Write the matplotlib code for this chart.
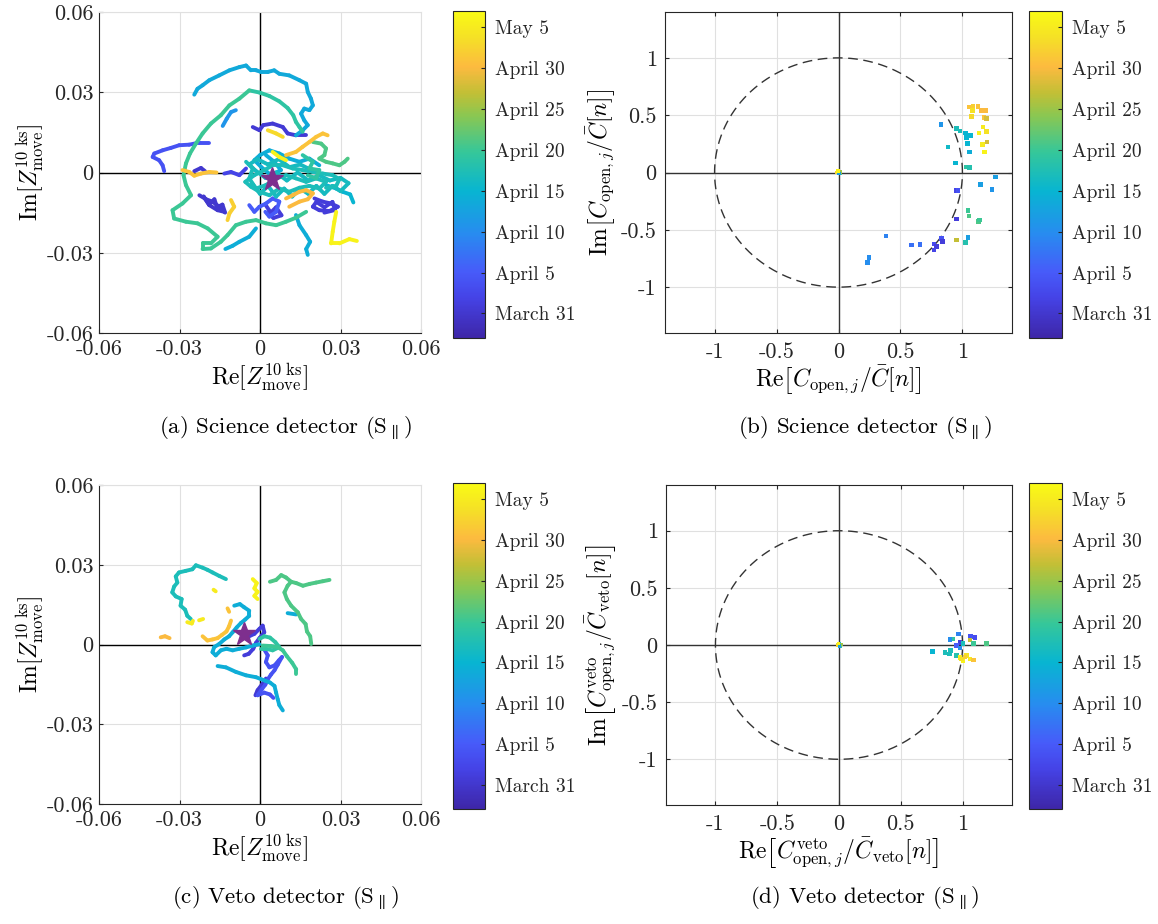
import numpy as np
import matplotlib.pyplot as plt
from matplotlib.collections import LineCollection
from matplotlib.colors import LinearSegmentedColormap, Normalize
from matplotlib.cm import ScalarMappable

plt.rcParams['font.family'] = 'cmr10'
plt.rcParams['mathtext.fontset'] = 'cm'
plt.rcParams['axes.unicode_minus'] = False
plt.rcParams['axes.formatter.use_mathtext'] = True

nan = np.nan

# dates: day 0 = March 31
date_ticks = [0, 5, 10, 15, 20, 25, 30, 35]
date_labels = ['March 31', 'April 5', 'April 10', 'April 15',
               'April 20', 'April 25', 'April 30', 'May 5']
day_min, day_max = -3, 37

# ---- (a) science detector walk, values in units of 1e-3, NaN = break
a_re = [-24.5, -23.3, -21.4, -18.9, -15.2, -11.4, -7.7, -5.2, -3.4, -1.5, 0.4, 2.9, 5.3, 7.2,
        10.9, 14.7, 17.2, 17.8, 19.0, 19.7, 18.4, 16.5, 15.3, 16.5, 17.8, 15.9, 13.4, nan,
        -4.0, -7.7, -11.4, -14.6, -18.3, -21.4, -23.9, -26.1, -27.6, -28.5, -27.6, -25.7, -28.9,
        -32.6, -32.0, -27.6, -23.3, -19.5, -15.8, -18.3, -21.4, -21.4, -18.3, -14.6, -12.1, -9.0,
        -5.2, -1.5, 2.2, 6.0, 9.7, 13.4, 17.2, nan,
        -4.0, -0.2, 3.5, 7.2, 10.3, 12.4, 13.4, 14.7, 15.9, nan,
        -13.9, -12.4, -10.8, -9.0, nan,
        -18.9, -22.6, -26.4, -30.1, -33.2, -36.3, -39.4, -40.0, -37.6, -36.3, -35.7, nan,
        -2.7, -0.2, 1.2, 4.7, 8.5, 10.3, 13.4, 17.2, nan,
        2.9, 6.0, 8.5, nan,
        9.7, 13.4, 15.9, 18.4, 20.9, 23.4, 25.2, nan,
        19.7, 22.8, 24.6, 24.0, 22.1, 24.6, 27.1, 29.6, 31.5, 32.7, nan,
        4.7, 7.2, 9.7, nan,
        -28.9, -26.4, -24.5, -22.0, -18.9, -16.2, nan,
        -13.3, -10.8, -7.7, -5.2, nan,
        -24.5, -22.0, -20.5, nan,
        -22.6, -20.1, -17.7, -15.2, -13.3, -15.8, -18.9, -21.0, -19.0, -17.0, -16.0, -14.0,
        -13.0, nan,
        -10.8, -9.6, -11.4, -12.1, nan,
        -4.0, -2.1, -0.2, 2.2, 4.7, 7.2, 6.0, 3.5, 2.0, nan,
        9.7, 12.2, 14.7, 17.2, 19.7, 17.8, 14.7, 10.9, nan,
        20.3, 23.4, 26.5, 29.0, 25.9, 22.1, 19.7, 21.0, 24.0, 27.0, 28.0, 24.0, nan,
        24.6, 28.4, 30.8, 33.6, 34.8, nan,
        28.4, 27.7, 27.1, 26.5, 29.6, 33.3, 36.1, nan,
        13.4, 14.7, 17.2, 18.7, 17.2, 17.8, nan,
        -1.5, -4.0, -7.7, -10.2, -12.9, nan,
        -5.2, -2.7, -4.0, -1.5, 2.2, 6.0, 9.7, 13.4, 17.2, 20.9, 24.6, 22.1, 18.4, 14.7, 10.9,
        7.2, 3.5, -0.2, -3.4, -5.5, -2.1, 1.6, 4.7, 8.5, 12.2, 15.9, 19.7, 23.4, 27.1, 29.6,
        28.4, 24.6, nan,
        -3.0, 0.0, 3.0, 6.0, 9.0, 12.0, 15.0, 18.0, 21.0, 24.0, 27.0, 30.0, 33.0, 30.0, 26.0,
        22.0, 18.0, 14.0, 10.0, 6.0, 2.0, -2.0, -4.0, -1.0, 3.0, 7.0, 11.0, 15.0, 19.0, nan,
        2.2, 5.3, 7.8, 4.1, 0.4, -2.1, 0.0, 3.5, 7.2, 10.9, 14.7, 18.4, 22.1, nan,
        15.9, 19.7, 18.4, 22.1, 20.9, 17.8, nan,
        2.0, 4.0, 6.0, 8.0, 5.0, 3.0]
a_im = [29.1, 31.3, 32.6, 34.5, 36.3, 38.2, 39.4, 40.0, 38.2, 38.2, 37.6, 37.6, 38.2, 36.9,
        36.3, 34.5, 33.2, 30.1, 27.6, 25.1, 23.3, 23.9, 22.0, 19.5, 17.7, 15.8, 13.9, nan,
        30.7, 27.6, 25.1, 21.4, 18.3, 14.6, 10.8, 7.1, 3.4, -1.0, -4.7, -8.5, -11.6,
        -14.1, -17.2, -18.4, -19.0, -20.9, -24.0, -26.5, -26.5, -28.6, -28.4, -25.9, -23.4, -19.7,
        -18.4, -17.8, -19.0, -19.7, -18.4, -16.9, -14.7, nan,
        30.7, 29.9, 28.6, 26.6, 24.1, 21.4, 18.9, 17.0, 15.2, nan,
        17.4, 20.1, 22.6, 23.3, nan,
        11.2, 11.2, 10.4, 10.2, 9.2, 8.3, 7.1, 5.8, 4.6, 2.7, 0.5, nan,
        17.0, 15.8, 17.7, 18.3, 17.0, 14.6, 13.9, 13.9, nan,
        15.8, 14.6, 13.3, nan,
        6.5, 7.7, 9.6, 11.4, 13.3, 14.6, 13.9, nan,
        11.4, 10.8, 9.0, 6.5, 5.2, 4.0, 3.4, 2.7, 4.0, 5.2, nan,
        7.7, 5.8, 4.6, nan,
        0.9, 0.2, -1.2, -0.4, 0.2, 0.0, nan,
        -0.4, 0.2, -1.0, 1.5, nan,
        0.5, 1.7, 0.5, nan,
        -8.5, -10.0, -10.9, -12.8, -14.7, -14.1, -12.2, -9.0, -12.0, -10.0, -13.0, -12.0,
        -15.0, nan,
        -10.3, -12.8, -15.3, -17.8, nan,
        -12.2, -14.7, -12.8, -11.6, -9.7, -10.9, -14.7, -16.5, -14.7, nan,
        -9.7, -8.5, -7.2, -6.6, -7.8, -10.0, -10.9, -12.8, nan,
        -9.7, -10.9, -11.6, -12.8, -14.4, -14.1, -12.8, -11.0, -13.0, -11.0, -14.0, -15.0, nan,
        -4.7, -6.0, -7.2, -8.2, -11.2, nan,
        -14.7, -18.4, -22.1, -26.5, -26.5, -24.9, -25.6, nan,
        -15.9, -19.7, -23.4, -25.9, -28.6, -30.8, nan,
        -20.9, -24.0, -25.9, -27.4, -28.6, nan,
        4.0, 1.5, -2.2, -6.0, -4.7, -2.2, -1.0, -2.2, -3.5, -2.2, -3.5, -6.0, -5.0, -5.7, -7.2,
        -6.0, -8.5, -7.2, -5.3, -3.5, -1.0, 0.9, 2.7, 2.7, 1.5, 0.9, 0.2, -0.4, -1.0, -2.5,
        -5.0, -5.7, nan,
        -4.0, -8.0, -5.0, -9.0, -6.0, -9.0, -6.0, -8.0, -5.0, -8.0, -5.0, -7.0, -4.0, -2.0, -3.0,
        -1.0, -3.0, 0.0, -3.0, 0.0, -2.0, 1.0, 3.0, 5.0, 3.0, 5.0, 2.0, 3.0, 1.0, nan,
        6.5, 4.0, 0.9, -1.0, 2.1, 4.6, 6.5, 8.3, 7.1, 5.2, 4.0, 5.2, 2.7, nan,
        6.5, 4.0, 1.5, 0.9, -2.2, -1.0, nan,
        -12.0, -15.0, -13.0, -16.0, -17.0, -15.0]
a_day = [13.5, 20, 19, 11, 4, 0.5, 33, 31, 21, 36, 31, 2, 0, 0, 32, 5, 30, 1, 15, 36,
         14, 14, 17, 16.5, 14, 19, 1]
a_star = (4.5, -2.5)

# ---- (c) veto detector walk, units of 1e-3
c_re = [-12.7, -15.2, -17.7, -19.6, -21.4, -23.9, -25.2, -27.7, -30.2, -31.4, -30.8, -32.0,
        -32.7, -31.4, -29.2, -29.6, -27.9, -27.1, -25.8, nan,
        -2.7, -1.2, -2.1, -0.9, -2.1, -0.9, nan,
        3.7, 6.0, 7.9, 9.7, 11.6, 13.5, 16.0, 18.5, 20.9, 23.4, 25.9, nan,
        11.6, 10.3, 9.1, 10.0, 11.6, 14.1, 15.3, 17.0, 17.5, 18.7, 19.1, nan,
        10.3, 13.5, nan,
        -9.6, -7.5, -5.9, -4.0, -4.0, -5.5, -7.1, -8.7, -10.2, -11.5, -13.3, -15.2, -17.1,
        -17.7, -16.5, -14.6, -12.5, -10.2, -7.7, -5.2, -2.7, -0.2, nan,
        -15.8, -12.7, -9.0, -5.2, -1.5, 1.6, 3.7, 5.4, 6.0, 6.6, 7.2, 8.5, nan,
        1.0, 4.1, 6.6, 8.5, 10.0, 12.0, 13.5, 13.5, nan,
        -0.2, 1.6, 3.7, 5.7, 7.2, 4.7, 2.2, 0.4, nan,
        -4.0, -2.1, -0.2, 1.0, 1.6, -0.2, -1.5, -2.5, -4.2, -5.9, nan,
        1.6, 2.9, 2.2, 3.5, 5.4, 7.0, 8.2, 6.6, 5.4, 4.1, 2.9, 2.0, 0.7, -0.9, 1.6, 3.7, 5.0, nan,
        2.2, 1.0, -0.9, -1.7, nan,
        -21.4, -19.6, -17.7, -15.8, -14.2, -12.5, -11.5, -10.8, nan,
        -37.0, -35.4, -33.7, nan,
        -12.1, -11.5, nan,
        -27.1, -25.4, -25.0, nan,
        -22.7, -21.2, nan,
        -17.3, -16.5]
c_im = [24.6, 25.8, 27.1, 28.1, 28.9, 29.8, 28.3, 27.7, 27.1, 25.6, 23.3, 21.8,
        19.6, 18.1, 17.1, 14.6, 13.1, 10.8, 9.6, nan,
        24.6, 23.1, 21.1, 19.8, 18.3, 17.1, nan,
        23.6, 24.3, 26.1, 25.2, 23.6, 23.1, 22.1, 22.8, 23.3, 23.8, 24.3, nan,
        23.6, 22.1, 19.6, 17.1, 14.6, 12.1, 9.6, 7.7, 4.9, 3.1, 0.2, nan,
        11.8, 11.3, nan,
        14.6, 15.2, 14.0, 12.7, 10.8, 9.4, 8.1, 6.4, 4.6, 3.1, 1.9, 0.2, -1.0,
        -2.9, -4.1, -2.2, -1.6, -2.2, -1.6, -1.1, -0.4, 0.1, nan,
        -8.1, -8.6, -10.3, -11.6, -12.3, -13.5, -14.3, -15.6, -18.1, -20.6, -22.8, -24.8, nan,
        -0.4, -0.6, -1.0, -2.2, -4.4, -6.9, -9.4, -11.0, nan,
        2.1, 3.1, 2.6, 0.9, -1.0, -2.2, -1.6, -1.6, nan,
        3.1, 4.0, 5.9, 7.1, 4.6, 2.4, 0.6, -1.6, -3.5, -4.1, nan,
        -1.9, -4.1, -6.6, -8.6, -7.9, -6.0, -4.7, -7.6, -9.7, -11.3, -13.1, -15.1, -16.8, -19.1,
        -18.1, -18.8, -20.1, nan,
        -12.8, -14.7, -17.2, -19.1, nan,
        3.1, 1.5, 1.9, 2.4, 3.6, 4.9, 6.9, 9.0, nan,
        2.7, 3.1, 2.4, nan,
        13.6, 12.3, nan,
        8.4, 7.9, 8.9, nan,
        9.1, 9.6, nan,
        20.6, 20.0]
c_day = [17, 36, 21, 21, 14, 14, 14, 20, 19, 1, 4, 0.5, 31, 30, 31, 35, 35, 35]
c_star = (-6.1, 4.0)

# ---- (b) science detector ratios
b_re = [1.054, 1.086, 1.126, 1.08, 1.072, 1.153, 1.188, 1.174, 1.193, 1.166, 1.193, 1.134,
        1.198, 1.161, 1.18, 0.826, 0.952, 0.979, 1.027, 1.032, 1.064, 1.04, 0.885, 1.059,
        0.946, 1.032, 1.059, 1.268, 1.145, 1.239, 0.952, 0.965, 0.952, 1.046, 1.054, 1.131,
        1.14, 0.952, 1.046, 1.024, 0.831, 0.839, 0.772, 0.79, 0.772, 0.59, 0.657, 0.383,
        0.247, 0.233]
b_im = [0.571, 0.577, 0.577, 0.54, 0.49, 0.54, 0.54, 0.478, 0.47, 0.397, 0.36, 0.345,
        0.267, 0.243, 0.18, 0.42, 0.383, 0.362, 0.345, 0.304, 0.325, 0.252, 0.223, 0.18,
        0.084, 0.049, 0.043, -0.038, -0.104, -0.148, -0.159, -0.159, -0.406, -0.333, -0.38,
        -0.429, -0.415, -0.588, -0.565, -0.612, -0.574, -0.6, -0.623, -0.646, -0.675, -0.632,
        -0.626, -0.554, -0.739, -0.783]
b_day = [31, 32, 31, 34, 33, 30, 30, 31, 28, 35, 34, 36, 28, 35, 36, 11, 17, 17, 15, 15,
         15, 15, 16, 14, 15, 19, 18, 12, 12, 11, 2, 4, 1, 20, 21, 21, 20, 27, 12, 18, 4, 1,
         3, 1, 2, 7, 7, 9, 10, 10]

# ---- (d) veto detector ratios
d_re = [0.757, 0.857, 0.892, 0.903, 0.924, 0.965, 0.897, 0.978, 0.951, 0.978, 1.065, 1.1,
        1.059, 1.086, 1.195, 1.005, 0.951, 0.978, 1.032, 1.059, 1.086, 1.005, 0.992, 1.02]
d_im = [-0.056, -0.065, -0.079, -0.05, 0.053, 0.097, 0.047, 0.023, -0.006, -0.026, 0.073,
        0.067, 0.044, 0.015, 0.015, 0.015, -0.094, -0.11, -0.094, -0.123, -0.132, -0.138,
        -0.123, -0.105]
d_day = [15, 17, 17, 17, 19, 9, 10, 1, 5, 10, 4, 3, 27, 20, 21, 17, 18, 35, 34, 35, 31,
         36, 34, 32]

# points sitting at the origin
o_re = [0.0, 0.012, -0.01, 0.016, 0.004, -0.004]
o_im = [0.01, -0.006, 0.0, 0.004, -0.01, 0.012]
o_day = [15, 20, 33, 25, 12, 36]

parula = LinearSegmentedColormap.from_list('parula', [
    (0.0, (0.2422, 0.1504, 0.6603)),
    (0.12, (0.2700, 0.2600, 0.9000)),
    (0.20, (0.2780, 0.3556, 0.9777)),
    (0.32, (0.1540, 0.5500, 0.9400)),
    (0.45, (0.0300, 0.7100, 0.8200)),
    (0.57, (0.2100, 0.7800, 0.6000)),
    (0.68, (0.5400, 0.7800, 0.3200)),
    (0.75, (0.7600, 0.7500, 0.2100)),
    (0.83, (0.9900, 0.7300, 0.2500)),
    (0.92, (0.9600, 0.8800, 0.1500)),
    (1.0, (0.9769, 0.9839, 0.0805))])
norm = Normalize(day_min, day_max)
star_color = (0.494, 0.184, 0.556)
dark = '0.15'
TICK_FS = 16
LABEL_FS = 17

W, H = 1158, 924
fig = plt.figure(figsize=(W / 100, H / 100), dpi=100)


def px_axes(x0, y0, x1, y1):
    return fig.add_axes([x0 / W, 1 - y1 / H, (x1 - x0) / W, (y1 - y0) / H])


def colorbar(x0, y0, x1, y1):
    cax = px_axes(x0, y0, x1, y1)
    cb = fig.colorbar(ScalarMappable(norm=norm, cmap=parula), cax=cax, ticks=date_ticks)
    cb.ax.set_yticklabels(date_labels)
    cb.ax.tick_params(direction='in', length=3, width=0.8, labelsize=14, colors=dark, pad=7)
    cb.outline.set_edgecolor(dark)
    cb.outline.set_linewidth(0.8)


def draw_walk(ax, re, im, seg_day, star):
    re = np.asarray(re) * 1e-3
    im = np.asarray(im) * 1e-3
    breaks = np.where(np.isnan(re))[0]
    starts = np.r_[0, breaks + 1]
    ends = np.r_[breaks, len(re)]
    order = np.argsort(seg_day, kind='stable')
    segs, cols = [], []
    for k in order:
        xs, ys = re[starts[k]:ends[k]], im[starts[k]:ends[k]]
        for i in range(len(xs) - 1):
            segs.append([(xs[i], ys[i]), (xs[i + 1], ys[i + 1])])
            cols.append(seg_day[k])
    lc = LineCollection(segs, cmap=parula, norm=norm, linewidths=2.8, capstyle='round',
                        joinstyle='round', zorder=3)
    lc.set_array(np.array(cols, dtype=float))
    ax.add_collection(lc)
    ax.plot(star[0] * 1e-3, star[1] * 1e-3, marker='*', ms=17, color=star_color,
            mec=star_color, zorder=5)

    ticks = [-0.06, -0.03, 0, 0.03, 0.06]
    labels = ['-0.06', '-0.03', '0', '0.03', '0.06']
    ax.set_xlim(-0.06, 0.06)
    ax.set_ylim(-0.06, 0.06)
    ax.set_xticks(ticks, labels)
    ax.set_yticks(ticks, labels)
    ax.grid(True, color='0.88', lw=0.8)
    ax.set_axisbelow(True)
    ax.axhline(0, color='k', lw=1.0, zorder=2)
    ax.axvline(0, color='k', lw=1.0, zorder=2)
    for s in ['top', 'right']:
        ax.spines[s].set_color('0.88')
    for s in ['left', 'bottom']:
        ax.spines[s].set_color(dark)
    ax.tick_params(direction='in', length=3, labelsize=TICK_FS, colors=dark)
    ax.tick_params(axis='x', pad=5)
    ax.tick_params(axis='y', pad=4)
    ax.set_xlabel(r'$\mathrm{Re}[Z^{10\ \mathrm{ks}}_{\mathrm{move}}]$', fontsize=LABEL_FS,
                  labelpad=1)
    ax.set_ylabel(r'$\mathrm{Im}[Z^{10\ \mathrm{ks}}_{\mathrm{move}}]$', fontsize=LABEL_FS,
                  labelpad=0)


def draw_ratio(ax, re, im, day, xlabel, ylabel):
    th = np.linspace(0, 2 * np.pi, 300)
    ax.plot(np.cos(th), np.sin(th), color='0.2', lw=1.0, ls=(0, (7, 4)), zorder=2)
    ax.axhline(0, color='0.2', lw=1.0, zorder=2)
    ax.axvline(0, color='0.2', lw=1.0, zorder=2)
    ax.scatter(re, im, c=day, cmap=parula, norm=norm, marker='s', s=11, linewidths=0, zorder=3)
    ax.scatter(o_re, o_im, c=o_day, cmap=parula, norm=norm, marker='s', s=7, linewidths=0,
               zorder=3)
    ticks = [-1, -0.5, 0, 0.5, 1]
    labels = ['-1', '-0.5', '0', '0.5', '1']
    ax.set_xlim(-1.4, 1.4)
    ax.set_ylim(-1.4, 1.4)
    ax.set_xticks(ticks, labels)
    ax.set_yticks(ticks, labels)
    ax.grid(True, color='0.88', lw=0.8)
    ax.set_axisbelow(True)
    for s in ax.spines.values():
        s.set_color(dark)
    ax.tick_params(direction='in', length=3, labelsize=TICK_FS, colors=dark, top=True,
                   right=True)
    ax.tick_params(axis='x', pad=7)
    ax.tick_params(axis='y', pad=6)
    ax.set_xlabel(xlabel, fontsize=LABEL_FS, labelpad=1)
    ax.set_ylabel(ylabel, fontsize=LABEL_FS, labelpad=2)


ax_a = px_axes(99, 12, 421, 333)
draw_walk(ax_a, a_re, a_im, a_day, a_star)
colorbar(453, 11, 485, 338)

ax_b = px_axes(665, 12, 1012, 333)
draw_ratio(ax_b, b_re, b_im, b_day,
           r'$\mathrm{Re}\left[C_{\mathrm{open},j}/\bar{C}[n]\right]$',
           r'$\mathrm{Im}\left[C_{\mathrm{open},j}/\bar{C}[n]\right]$')
colorbar(1029, 11, 1062, 338)

ax_c = px_axes(99, 485, 421, 804)
draw_walk(ax_c, c_re, c_im, c_day, c_star)
colorbar(453, 483, 485, 809)

ax_d = px_axes(666, 485, 1012, 805)
draw_ratio(ax_d, d_re, d_im, d_day,
           r'$\mathrm{Re}\left[C^{\mathrm{veto}}_{\mathrm{open},j}/\bar{C}_{\mathrm{veto}}[n]\right]$',
           r'$\mathrm{Im}\left[C^{\mathrm{veto}}_{\mathrm{open},j}/\bar{C}_{\mathrm{veto}}[n]\right]$')
colorbar(1029, 483, 1062, 809)

captions = [(285, 428, '(a) Science detector'), (865, 428, '(b) Science detector'),
            (285, 898, '(c) Veto detector'), (865, 898, '(d) Veto detector')]
for x, y, t in captions:
    fig.text(x / W, 1 - y / H, t + r' ($\mathrm{S}_{\parallel}$)', ha='center', va='center',
             fontsize=16.5)

fig.savefig('out.png', dpi=100)
